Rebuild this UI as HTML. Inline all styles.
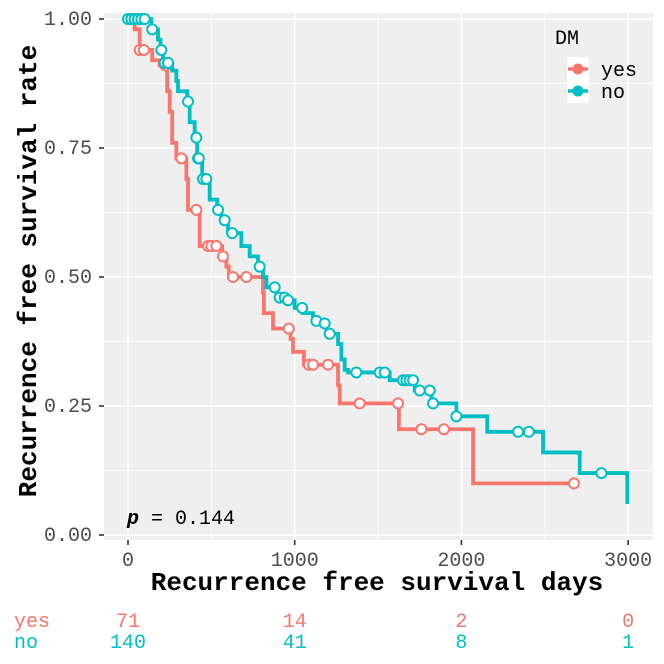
<!DOCTYPE html>
<html><head><meta charset="utf-8"><style>
body{margin:0;background:#fff;}
svg text{font-family:"Liberation Mono","DejaVu Sans Mono",monospace;}
</style></head><body>
<svg id="chart" width="664" height="659" xmlns="http://www.w3.org/2000/svg">
<rect x="104" y="13" width="549" height="527" fill="#efefef"/>
<g id="grid"></g>
<g id="curves"></g>
<g id="axes"></g>
<text x="127" y="524" font-size="20" fill="#000"><tspan font-style="italic" font-weight="bold">p</tspan> = 0.144</text>
<text x="377" y="590" font-size="26" font-weight="bold" text-anchor="middle" fill="#000">Recurrence free survival days</text>
<text transform="translate(36,271) rotate(-90)" font-size="26" font-weight="bold" text-anchor="middle" fill="#000">Recurrence free survival rate</text>
<g>
<text x="555" y="44" font-size="20" fill="#000">DM</text>
<rect x="567" y="57" width="22" height="46" fill="#fff"/>
<line x1="568" y1="69" x2="588" y2="69" stroke="#f8766d" stroke-width="3.5"/>
<circle cx="578" cy="69" r="5.5" fill="#f8766d"/>
<line x1="568" y1="91" x2="588" y2="91" stroke="#00bfc4" stroke-width="3.5"/>
<circle cx="578" cy="91" r="5.5" fill="#00bfc4"/>
<text x="601" y="76" font-size="20" fill="#000">yes</text>
<text x="601" y="98" font-size="20" fill="#000">no</text>
</g>
<g id="risk"></g>
</svg>
<script>
const xTicks=[0,1000,2000,3000];
const yTicks=[0,0.25,0.5,0.75,1.0];
const yTickLabels=["0.00","0.25","0.50","0.75","1.00"];
const yesTimes=[0,40,70,145,190,235,250,265,290,350,360,430,565,590,605,810,815,870,975,990,1055,1260,1270,1625,2070];
const yesSurv=[1.0,0.98,0.94,0.92,0.91,0.86,0.82,0.76,0.73,0.69,0.63,0.56,0.54,0.52,0.50,0.47,0.43,0.40,0.38,0.355,0.33,0.29,0.255,0.205,0.10];
const yesCensT=[70,95,225,320,410,480,500,530,570,630,710,965,1085,1110,1200,1390,1620,1760,1895,2675];
const yesEnd=2690;
const noTimes=[0,140,180,195,210,265,290,300,355,370,400,415,445,490,535,560,600,680,730,780,810,830,890,950,1000,1050,1110,1150,1190,1260,1280,1300,1320,1570,1720,1820,1970,2155,2490,2710,2995];
const noSurv=[1.0,0.98,0.96,0.94,0.915,0.90,0.88,0.86,0.84,0.80,0.77,0.73,0.69,0.65,0.63,0.61,0.585,0.56,0.54,0.52,0.50,0.48,0.46,0.455,0.44,0.43,0.415,0.41,0.39,0.37,0.34,0.32,0.315,0.30,0.28,0.255,0.23,0.20,0.16,0.12,0.06];
const noCensT=[0,20,40,60,80,100,145,200,220,240,360,410,420,425,450,470,540,580,625,790,880,910,940,960,1045,1130,1180,1210,1370,1510,1540,1650,1670,1690,1710,1750,1810,1830,1970,2340,2405,2840];
const noEnd=2995;
const riskTimes=[0,1000,2000,3000];
const riskYes=[71,14,2,0];
const riskNo=[140,41,8,1];
const NS="http://www.w3.org/2000/svg";
const X=t=>128+t*0.1667, Y=s=>535-s*516;
function mk(tag,attrs,parent){const e=document.createElementNS(NS,tag);for(const k in attrs)e.setAttribute(k,attrs[k]);parent.appendChild(e);return e;}
const grid=document.getElementById('grid'),axes=document.getElementById('axes'),curves=document.getElementById('curves'),risk=document.getElementById('risk');
for(let i=0;i<xTicks.length;i++){const x=X(xTicks[i]);
 const g=mk('line',{x1:x,x2:x,y1:13,y2:540,stroke:'#fff','stroke-width':1.6},grid);
 if(i<xTicks.length-1){const m=X((xTicks[i]+xTicks[i+1])/2);mk('line',{x1:m,x2:m,y1:13,y2:540,stroke:'#fff','stroke-width':0.7},grid);}
 mk('line',{x1:x,x2:x,y1:540,y2:545,stroke:'#333','stroke-width':1.6},axes);
 const t=mk('text',{x:x,y:566,'font-size':20,fill:'#4d4d4d','text-anchor':'middle'},axes);t.textContent=xTicks[i];
 }
for(let i=0;i<yTicks.length;i++){const y=Y(yTicks[i]);
 const g=mk('line',{x1:104,x2:653,y1:y,y2:y,stroke:'#fff','stroke-width':1.6},grid);
 if(i<yTicks.length-1){const m=Y((yTicks[i]+yTicks[i+1])/2);mk('line',{x1:104,x2:653,y1:m,y2:m,stroke:'#fff','stroke-width':0.7},grid);}
 mk('line',{x1:99,x2:104,y1:y,y2:y,stroke:'#333','stroke-width':1.6},axes);
 const t=mk('text',{x:92,y:y+6,'font-size':20,fill:'#4d4d4d','text-anchor':'end'},axes);t.textContent=yTickLabels[i];
 }
function stepVal(times,surv,t){let v=surv[0];for(let i=0;i<times.length;i++){if(times[i]<=t)v=surv[i];}return v;}
function draw(times,surv,cens,end,color,name){
 let d='M'+X(times[0])+','+Y(surv[0]);
 for(let i=1;i<times.length;i++){d+=' H'+X(times[i])+' V'+Y(surv[i]);}
 d+=' H'+X(end);
 const p=mk('path',{d:d,fill:'none',stroke:color,'stroke-width':3.8},curves);
 
 for(const c of cens){const ci=mk('circle',{cx:X(c),cy:Y(stepVal(times,surv,c)),r:5,fill:'#fff',stroke:color,'stroke-width':2},curves);
  }
}
draw(yesTimes,yesSurv,yesCensT,yesEnd,'#f8766d','yes');
draw(noTimes,noSurv,noCensT,noEnd,'#00bfc4','no');
const ly=mk('text',{x:14,y:627,'font-size':20,fill:'#f8766d'},risk);ly.textContent='yes';
const ln=mk('text',{x:14,y:648,'font-size':20,fill:'#00bfc4'},risk);ln.textContent='no';
for(let i=0;i<riskTimes.length;i++){const x=X(riskTimes[i]);
 const a=mk('text',{x:x,y:627,'font-size':20,fill:'#f8766d','text-anchor':'middle'},risk);a.textContent=riskYes[i];
 
 const b=mk('text',{x:x,y:648,'font-size':20,fill:'#00bfc4','text-anchor':'middle'},risk);b.textContent=riskNo[i];
 }
</script>
</body></html>
